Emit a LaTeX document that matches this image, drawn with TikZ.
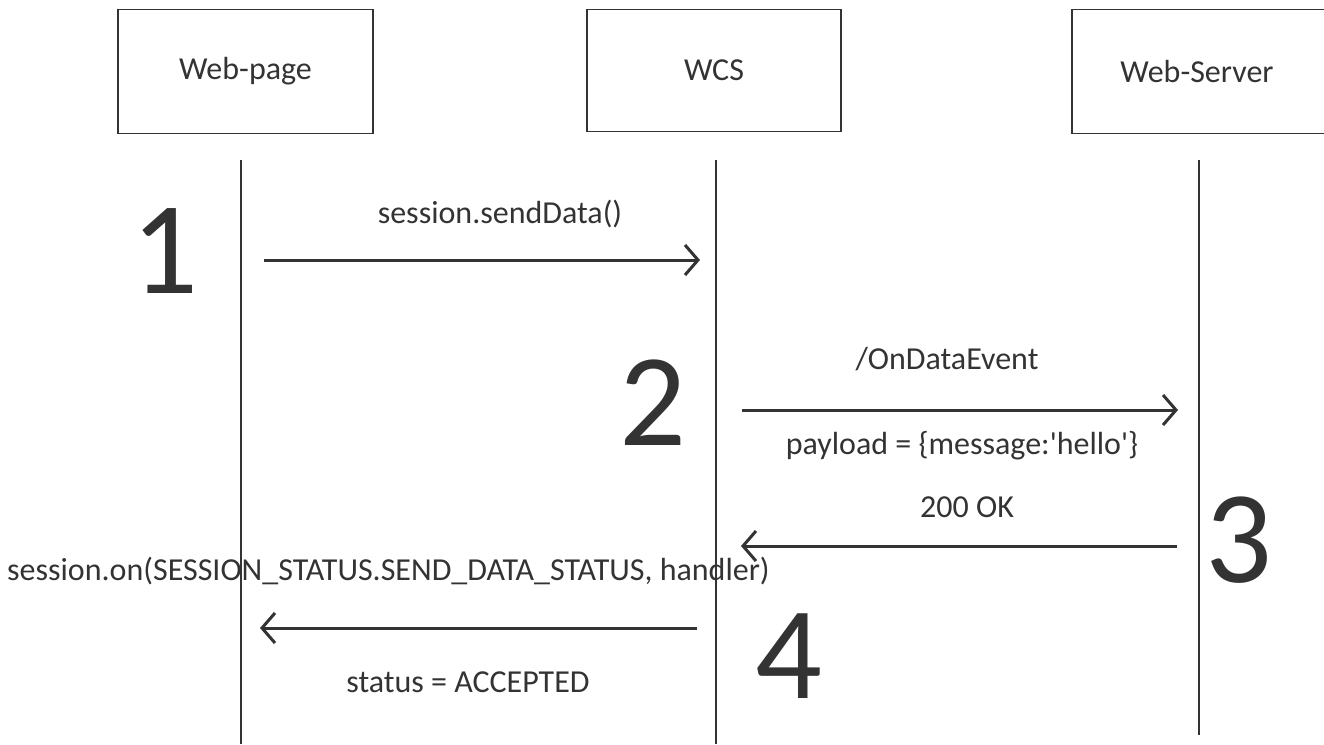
\documentclass[tikz,border=0pt]{standalone}
\usepackage{fontspec}
\setmainfont{Carlito}
\usetikzlibrary{arrows.meta}
\definecolor{ink}{HTML}{333333}
\begin{document}
\begin{tikzpicture}[x=1pt,y=-1pt,
  actor/.style={draw=ink,line width=1.5pt,minimum width=255pt,minimum height=124pt,inner sep=0pt,text=ink,font=\fontsize{32}{38}\selectfont},
  life/.style={draw=ink,line width=1.5pt},
  msg/.style={draw=ink,line width=3pt,-{Straight Barb[length=13pt,width=30pt,line width=3pt]}},
  lbl/.style={text=ink,font=\fontsize{32}{38}\selectfont,inner sep=0pt},
  big/.style={text=ink,font=\fontsize{132}{140}\selectfont,inner sep=0pt}]
\useasboundingbox (0,0) rectangle (1324,744);
\node[actor] (wp) at (245.5,71.5) {Web-page};
\node[actor,minimum width=254pt,minimum height=122pt] (wcs) at (714,70.5) {WCS};
\node[actor,minimum width=270pt] (ws) at (1207,71.5) {};
\node[text=ink,font=\fontsize{32}{38}\selectfont,inner sep=0pt] (wst) at (1197,71.5) {Web-Server};
\coordinate (l1a) at (241,160); \coordinate (l1b) at (241,744);
\coordinate (l2a) at (716,160); \coordinate (l2b) at (716,744);
\coordinate (l3a) at (1199,160); \coordinate (l3b) at (1199,735);
\draw[life] (l1a) -- (l1b);
\draw[life] (l2a) -- (l2b);
\draw[life] (l3a) -- (l3b);
\node[big] (n1) at (165,251) {1};
\node[big] (n2) at (653,403) {2};
\node[big] (n3) at (1239,540) {3};
\node[big] (n4) at (789,656) {4};
\coordinate (a1s) at (264,260); \coordinate (a1e) at (700,260);
\coordinate (a2s) at (742,410); \coordinate (a2e) at (1178,410);
\coordinate (a3s) at (1177,546); \coordinate (a3e) at (741,546);
\coordinate (a4s) at (697,628); \coordinate (a4e) at (260,628);
\draw[msg] (a1s) -- (a1e);
\draw[msg] (a2s) -- (a2e);
\draw[msg] (a3s) -- (a3e);
\draw[msg] (a4s) -- (a4e);
\node[lbl] (t1) at (500,214) {session.sendData()};
\node[lbl] (t2) at (947,359) {/OnDataEvent};
\node[lbl] (t3) at (962,446) {payload = \{message:\textquotesingle hello\textquotesingle\}};
\node[lbl] (t4) at (967,507) {200 OK};
\node[lbl,anchor=west] (t5) at (7,571) {session.on(SESSION\_STATUS.SEND\_DATA\_STATUS, handler)};
\node[lbl] (t6) at (468,682) {status = ACCEPTED};
\end{tikzpicture}
\end{document}
